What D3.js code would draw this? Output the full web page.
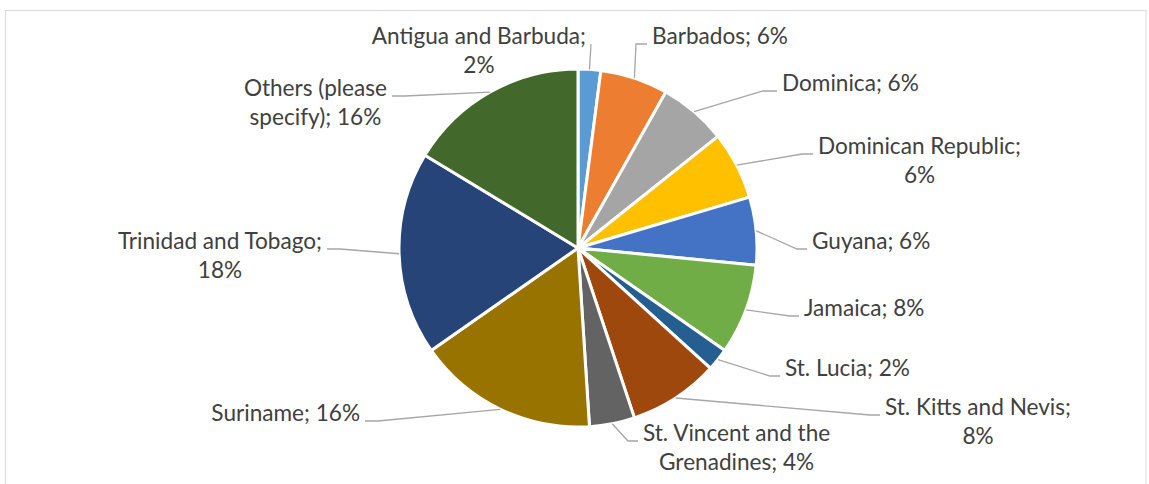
<!DOCTYPE html>
<html>
<head>
<meta charset="utf-8">
<script src="https://cdn.jsdelivr.net/npm/d3@7"></script>
<style>
  html, body { margin: 0; padding: 0; background: #fff; }
  svg { display: block; }
</style>
</head>
<body>
<svg id="chart" width="1149" height="484"></svg>
<script>
// responses per country (shown as share of the total)
const countries = [
  'Antigua and Barbuda', 'Barbados', 'Dominica', 'Dominican Republic', 'Guyana',
  'Jamaica', 'St. Lucia', 'St. Kitts and Nevis', 'St. Vincent and the Grenadines',
  'Suriname', 'Trinidad and Tobago', 'Others (please specify)'
]
const responses = [1, 3, 3, 3, 3, 4, 1, 4, 2, 8, 9, 8]

// office palette
const sliceColors = [
  '#5b9bd5', '#ed7d31', '#a5a5a5', '#ffc000', '#4472c4', '#70ad47',
  '#255e91', '#9e480e', '#636363', '#997300', '#264478', '#43682b'
]

// how many words go on the first label line (null = single line)
const firstLineWords = [3, null, null, 2, null, null, null, 4, 4, null, 3, 2]

// label anchor (end of leader line) relative to pie centre, side of text, elbow length
const labelLayout = [
  { dx: 13, dy: -204, side: 'left', elbow: 0 },
  { dx: 69, dy: -204, side: 'right', elbow: 11 },
  { dx: 199, dy: -157, side: 'right', elbow: 14 },
  { dx: 235, dy: -94, side: 'right', elbow: 11 },
  { dx: 229, dy: 1, side: 'right', elbow: 10 },
  { dx: 221, dy: 68, side: 'right', elbow: 9 },
  { dx: 202, dy: 128, side: 'right', elbow: 10 },
  { dx: 302, dy: 167, side: 'right', elbow: 10 },
  { dx: 60, dy: 193, side: 'right', elbow: 10 },
  { dx: -213, dy: 173, side: 'left', elbow: 13 },
  { dx: -251, dy: 1, side: 'left', elbow: 13 },
  { dx: -186, dy: -152, side: 'left', elbow: 13 }
]

const cx = 578
const cy = 248
const radius = 179
const FONT = 'Lato, "Open Sans", sans-serif'
const textColor = '#404040'
const lineHeight = 28.5

const data = countries.map((c, i) => ({ name: c, value: responses[i], index: i }))
const total = d3.sum(responses)

const svg = d3.select('#chart')

// chart area frame
svg.append('rect')
  .attr('x', 5.5)
  .attr('y', 10.5)
  .attr('width', 1140.5)
  .attr('height', 500)
  .attr('fill', '#fff')
  .attr('stroke', '#d9d9d9')
  .attr('stroke-width', 1)

// work out font size so the label widths match the calibri original
const probe = svg.append('text')
  .style('font-family', FONT)
  .style('font-size', '24px')
  .text('Barbados; 6%')
const probeW = probe.node().getComputedTextLength()
probe.remove()
const fontSize = Math.min(24, 24 * 136 / probeW)

const pie = d3.pie().sort(null).value((d) => d.value)
const arcs = pie(data)

const arc = d3.arc().innerRadius(0).outerRadius(radius)
const edge = d3.arc().innerRadius(radius).outerRadius(radius)

const g = svg.append('g')
  .attr('id', 'viz')
  .attr('transform', `translate(${cx},${cy})`)

g.append('g')
  .attr('id', 'slices')
  .selectAll('path')
  .data(arcs)
  .join('path')
  .attr('d', arc)
  .attr('fill', (d) => sliceColors[d.index])
  .attr('stroke', '#fff')
  .attr('stroke-width', 3)
  .attr('stroke-linejoin', 'round')

// leader lines
g.append('g')
  .attr('id', 'leaders')
  .selectAll('polyline')
  .data(arcs)
  .join('polyline')
  .attr('fill', 'none')
  .attr('stroke', '#a6a6a6')
  .attr('stroke-width', 1.3)
  .attr('points', (d) => {
    const l = labelLayout[d.index]
    const start = edge.centroid(d)
    const sign = l.side === 'right' ? -1 : 1
    const elbow = [l.dx + sign * l.elbow, l.dy]
    return [start, elbow, [l.dx, l.dy]].map((p) => p.join(',')).join(' ')
  })

// labels
const labels = g.append('g')
  .attr('id', 'labels')
  .style('font-family', FONT)
  .style('font-size', fontSize + 'px')
  .attr('fill', textColor)

arcs.forEach((d) => {
  const l = labelLayout[d.index]
  const pct = Math.round(d.data.value / total * 100)
  const words = `${d.data.name}; ${pct}%`.split(' ')
  const k = firstLineWords[d.index]
  const lines = k ? [words.slice(0, k).join(' '), words.slice(k).join(' ')] : [words.join(' ')]

  const t = labels.append('text')
  lines.forEach((line, i) => {
    t.append('tspan').attr('y', l.dy + i * lineHeight).text(line)
  })
  // measure block width then centre the lines inside it
  const widths = []
  t.selectAll('tspan').each(function () { widths.push(this.getComputedTextLength()) })
  const blockW = d3.max(widths)
  const left = l.side === 'right' ? l.dx + 5 : l.dx - 5 - blockW
  t.attr('text-anchor', 'middle')
  t.selectAll('tspan').attr('x', left + blockW / 2)
})
</script>
</body>
</html>
